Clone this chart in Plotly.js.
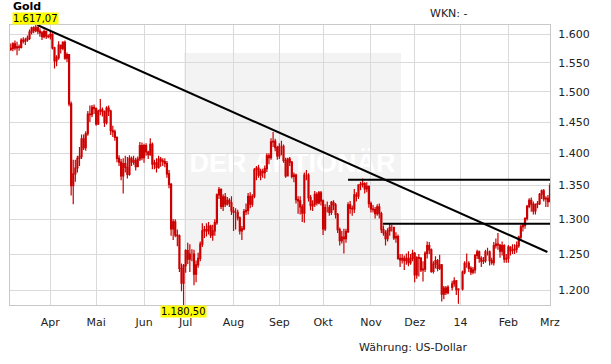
<!DOCTYPE html>
<html>
<head>
<meta charset="utf-8">
<script src="https://cdn.plot.ly/plotly-3.0.1.min.js"></script>
<style>html,body{margin:0;padding:0;background:#fff;}#chart{width:611px;height:364px;}</style>
</head>
<body>
<div id="chart"></div>
<script>
// Trading days run from 2013-03-05 to 2014-03-03 (weekdays); values per month below.
const startDate = '2013-03-05';
const endDate = '2014-03-03';

const openP = [
  // Mar 2013
  1573,1575,1583,1576,1578,1577,1590,1588,1590,1593,1604,1612,1607,1613,1606,1603,1596,1605,1597,
  // Apr
  1596,1600,1576,1553,1559,1581,1575,1586,1558,1564,1480,1350,1368,1377,1392,1395,1423,1409,1431,1463,1462,1474,
  // May
  1472,1447,1468,1470,1467,1449,1473,1468,1436,1434,1425,1392,1386,1365,1384,1378,1367,1392,1386,1389,1379,1391,1412,
  // Jun
  1393,1412,1402,1398,1414,1383,1385,1378,1391,1388,1387,1384,1368,1352,1286,1296,1277,1276,1230,1210,
  // Jul
  1234,1255,1243,1250,1250,1222,1235,1244,1264,1283,1285,1283,1290,1277,1283,1295,1336,1344,1319,1333,1322,1328,1324,
  // Aug
  1312,1310,1310,1302,1283,1286,1311,1313,1334,1322,1334,1374,1377,1366,1372,1370,1376,1396,1393,1418,1419,1409,
  // Sep
  1396,1411,1411,1389,1365,1391,1386,1364,1366,1329,1327,1318,1309,1366,1366,1332,1320,1322,1337,1324,1339,
  // Oct
  1327,1286,1317,1317,1310,1325,1321,1307,1285,1269,1274,1272,1282,1321,1316,1315,1336,1334,1351,1352,1353,1345,1349,
  // Nov
  1323,1315,1314,1308,1318,1308,1285,1280,1272,1283,1288,1288,1273,1275,1244,1242,1244,1241,1244,1238,1244,
  // Dec
  1251,1221,1245,1244,1228,1229,1251,1262,1256,1226,1236,1241,1230,1235,1195,1203,1197,null,1204,1209,1213,1201,
  // Jan 2014
  null,1202,1225,1237,1237,1230,1225,1228,1248,1253,1244,1240,1241,1253,1253,1241,1238,1262,1264,1263,1254,1262,1243,
  // Feb
  1244,1260,1255,1256,1257,1262,1274,1289,1291,1301,1319,1328,1322,1312,1322,1323,1337,1342,1330,1331,
  // Mar 2014
  1326
];
const highP = [
  1584,1586,1589,1587,1582,1593,1595,1594,1598,1609,1614,1615,1617.07,1614,1611,1606,1609,1607,1600,
  1606,1602,1578,1563,1588,1582,1588,1589,1568,1565,1484,1390,1390,1396,1410,1430,1430,1435,1468,1477,1478,1479,
  1474,1470,1488,1474,1469,1476,1477,1470,1444,1438,1427,1397,1391,1392,1396,1394,1397,1395,1396,1393,1395,1418,1417,
  1415,1416,1404,1424,1417,1390,1392,1396,1394,1392,1392,1388,1374,1354,1300,1300,1285,1278,1237,1236,
  1257,1266,1264,1257,1256,1241,1252,1268,1294,1290,1294,1296,1292,1292,1300,1338,1348,1346,1337,1339,1333,1331,1334,
  1318,1316,1314,1304,1290,1315,1323,1339,1340,1337,1377,1380,1382,1376,1376,1381,1400,1400,1424,1433.8,1423,1412,
  1416,1420,1414,1393,1393,1394,1388,1370,1368,1334,1334,1322,1370,1374,1369,1336,1328,1342,1340,1342,1342,
  1329,1322,1326,1321,1327,1328,1324,1309,1288,1283,1286,1286,1325,1327,1320,1345,1340,1352,1356,1361,1355,1355,1350,
  1326,1321,1318,1322,1323,1311,1291,1284,1287,1294,1292,1289,1281,1278,1250,1250,1248,1251,1254,1250,1256,
  1253,1247,1250,1246,1240,1254,1268,1267,1258,1240,1247,1243,1249,1236,1206,1206,1207,null,1213,1218,1214,1203,
  null,1227,1240,1251,1240,1233,1232,1250,1256,1255,1247,1246,1256,1259,1255,1245,1267,1272,1280,1264,1268,1264,1250,
  1263,1261,1264,1264,1268,1276,1292,1294,1303,1321,1331,1332,1326,1323,1327,1339,1344,1345,1334,1336,
  1354
];
const lowP = [
  1571,1570,1572,1563,1571,1575,1584,1581,1587,1590,1600,1602,1604,1601,1596,1590,1593,1592,1593,
  1591,1573,1540,1544,1555,1566,1572,1555,1551,1476,1335,1322,1356,1370,1380,1391,1405,1404,1428,1450,1458,1463,
  1444,1445,1461,1459,1442,1446,1460,1429,1426,1420,1386,1380,1358,1338,1370,1361,1365,1380,1382,1373,1378,1388,1389,
  1385,1396,1391,1396,1375,1375,1370,1376,1379,1380,1378,1362,1346,1276,1270,1274,1261,1225,1199,1180.5,
  1224,1236,1225,1240,1207,1211,1231,1240,1260,1273,1275,1278,1273,1269,1276,1292,1330,1315,1312,1318,1320,1318,1306,
  1283,1285,1298,1278,1270,1284,1306,1307,1316,1318,1331,1358,1362,1358,1362,1361,1371,1383,1390,1410,1403,1390,
  1391,1397,1385,1362,1364,1380,1361,1355,1323,1308,1307,1296,1295,1358,1326,1313,1312,1318,1320,1322,1320,
  1277,1283,1310,1305,1306,1313,1301,1280,1262,1265,1251,1266,1280,1308,1305,1309,1326,1330,1343,1347,1338,1340,1317,
  1310,1310,1301,1305,1301,1280,1276,1262,1268,1276,1282,1270,1266,1242,1232,1237,1228,1235,1233,1235,1240,
  1211,1216,1219,1225,1212,1225,1244,1250,1224,1223,1230,1226,1228,1185,1188,1194,1195,null,1200,1205,1194,1182,
  null,1200,1222,1231,1225,1221,1222,1223,1243,1238,1232,1236,1238,1248,1234,1235,1234,1258,1256,1245,1248,1238,1238,
  1238,1248,1250,1250,1252,1259,1270,1282,1286,1298,1316,1311,1307,1307,1316,1321,1330,1326,1318,1318,
  1326
];
const closeP = [
  1575,1583,1576,1578,1577,1590,1588,1590,1593,1604,1612,1607,1613,1606,1603,1596,1605,1597,1596,
  1600,1576,1553,1559,1581,1575,1586,1558,1564,1480,1350,1368,1377,1392,1395,1423,1409,1431,1463,1462,1474,1472,
  1447,1468,1470,1467,1449,1473,1468,1436,1434,1425,1392,1386,1365,1384,1378,1367,1392,1386,1389,1379,1391,1412,1393,
  1412,1402,1398,1414,1383,1385,1378,1391,1388,1387,1384,1368,1352,1286,1296,1277,1276,1230,1210,1234,
  1255,1243,1250,1250,1222,1235,1244,1264,1283,1285,1283,1290,1277,1283,1295,1336,1344,1319,1333,1322,1328,1324,1312,
  1310,1310,1302,1283,1286,1311,1313,1334,1322,1334,1374,1377,1366,1372,1370,1376,1396,1393,1418,1419,1409,1396,
  1411,1411,1389,1365,1391,1386,1364,1366,1329,1327,1318,1309,1366,1366,1332,1320,1322,1337,1324,1339,1327,
  1286,1317,1317,1310,1325,1321,1307,1285,1269,1274,1272,1282,1321,1316,1315,1336,1334,1351,1352,1353,1345,1349,1323,
  1315,1314,1308,1318,1308,1285,1280,1272,1283,1288,1288,1273,1275,1244,1242,1244,1241,1244,1238,1244,1251,
  1221,1245,1244,1228,1229,1251,1262,1256,1226,1236,1241,1230,1235,1195,1203,1197,1204,null,1209,1213,1201,1202,
  null,1225,1237,1237,1230,1225,1228,1248,1253,1244,1240,1241,1253,1253,1241,1238,1262,1264,1263,1254,1262,1243,1244,
  1260,1255,1256,1257,1262,1274,1289,1291,1301,1319,1328,1322,1312,1322,1323,1337,1342,1330,1331,1326,
  1350
];

// trend lines (date, price)
const trendX = ['2013-03-21 18:00', '2014-02-27 18:00'];
const trendY = [1617.07, 1253];
const resist1X = ['2013-10-17 00:00', '2014-03-03 00:00'];
const resist1Y = [1359, 1359];
const resist2X = ['2013-11-08 17:00', '2014-03-03 00:00'];
const resist2Y = [1293.5, 1293.5];

// axis ticks
const monthTickVals = ['2013-04-01','2013-05-01','2013-06-03','2013-07-01','2013-08-01','2013-09-02',
  '2013-10-01','2013-11-01','2013-12-02','2014-01-01','2014-02-03','2014-03-03'];
const monthTickText = ['Apr','Mai','Jun','Jul','Aug','Sep','Okt','Nov','Dez','14','Feb','Mrz'];
const priceTickVals = [1200,1250,1300,1350,1400,1450,1500,1550,1600];
const priceTickText = ['1.200','1.250','1.300','1.350','1.400','1.450','1.500','1.550','1.600'];

// build weekday list
function tradingDays(s, e) {
  const out = [];
  let d = new Date(s + 'T00:00:00Z');
  const end = new Date(e + 'T00:00:00Z');
  while (d <= end) {
    const wd = d.getUTCDay();
    if (wd !== 0 && wd !== 6) out.push(d.toISOString().slice(0, 10));
    d = new Date(d.getTime() + 86400000);
  }
  return out;
}
const dates = tradingDays(startDate, endDate);
if (dates.length !== closeP.length) console.warn('length mismatch', dates.length, closeP.length);

function fmtDE(v) {
  const parts = v.toFixed(2).split('.');
  return parts[0].replace(/\B(?=(\d{3})+(?!\d))/g, '.') + ',' + parts[1];
}

let iMax = 0, iMin = 0;
highP.forEach((v, i) => { if (v !== null && v > highP[iMax]) iMax = i; });
lowP.forEach((v, i) => { if (v !== null && v < lowP[iMin]) iMin = i; });

const red = '#cc0000';
const traces = [
  {
    type: 'candlestick', x: dates, open: openP, high: highP, low: lowP, close: closeP,
    increasing: {line: {color: red, width: 1.2}, fillcolor: '#ffffff'},
    decreasing: {line: {color: red, width: 1.2}, fillcolor: red},
    whiskerwidth: 0, hoverinfo: 'skip', showlegend: false
  },
  {type: 'scatter', mode: 'lines', x: trendX, y: trendY, line: {color: '#000', width: 2}, hoverinfo: 'skip', showlegend: false},
  {type: 'scatter', mode: 'lines', x: resist1X, y: resist1Y, line: {color: '#000', width: 2}, hoverinfo: 'skip', showlegend: false},
  {type: 'scatter', mode: 'lines', x: resist2X, y: resist2Y, line: {color: '#000', width: 2}, hoverinfo: 'skip', showlegend: false}
];

const L = 10, T = 25, W = 540, H = 280;
const px = x => (x - L) / W;
const py = y => 1 - (y - T) / H;
const font = {family: 'DejaVu Sans', size: 11, color: '#222'};

const layout = {
  width: 611, height: 364,
  margin: {l: 10, r: 61, t: 25, b: 59, pad: 0},
  paper_bgcolor: '#ffffff', plot_bgcolor: 'rgba(0,0,0,0)',
  separators: ',.',
  showlegend: false,
  font: font,
  xaxis: {
    type: 'date', range: ['2013-03-04 15:00', '2014-03-03 00:00'],
    rangebreaks: [{bounds: ['sat', 'mon']}],
    tickmode: 'array', tickvals: monthTickVals, ticktext: monthTickText,
    showgrid: true, gridcolor: '#dadada', gridwidth: 1,
    showline: true, mirror: true, linecolor: '#c8c8c8', linewidth: 1,
    ticks: '', ticklabelstandoff: 7, tickfont: font, rangeslider: {visible: false}, zeroline: false, fixedrange: true
  },
  yaxis: {
    type: 'log', side: 'right',
    range: [Math.log10(lowP[iMin]), Math.log10(highP[iMax])],
    tickmode: 'array', tickvals: priceTickVals, ticktext: priceTickText,
    showgrid: true, gridcolor: '#dadada', gridwidth: 1,
    showline: true, mirror: true, linecolor: '#c8c8c8', linewidth: 1,
    ticks: '', ticklabelstandoff: 5, tickfont: font, zeroline: false, fixedrange: true
  },
  shapes: [{
    type: 'rect', xref: 'paper', yref: 'paper', layer: 'below',
    x0: px(184), x1: px(401), y0: py(266), y1: py(53),
    fillcolor: '#f3f3f3', line: {width: 0},
    label: {text: 'DER AKTIONÄR', textposition: 'middle center',
      font: {family: 'Liberation Sans', size: 27, color: '#ffffff', weight: 'bold'}}
  }],
  annotations: [
    {xref: 'paper', yref: 'paper', x: px(11), y: py(6.5), xanchor: 'left', yanchor: 'middle',
     text: '<b>Gold</b>', showarrow: false, font: {family: 'DejaVu Sans', size: 11, color: '#000'}},
    {xref: 'paper', yref: 'paper', x: px(428), y: py(14), xanchor: 'left', yanchor: 'middle',
     text: 'WKN: -', showarrow: false, font: font},
    {xref: 'paper', yref: 'paper', x: px(357), y: py(347), xanchor: 'left', yanchor: 'middle',
     text: 'Währung: US-Dollar', showarrow: false, font: font},
    {xref: 'x', yref: 'y', x: dates[iMax], y: Math.log10(highP[iMax]), xanchor: 'center', yanchor: 'bottom',
     text: fmtDE(highP[iMax]), showarrow: false, bgcolor: '#ffff00', borderpad: 0,
     font: {family: 'DejaVu Sans', size: 10, color: '#000'}},
    {xref: 'x', yref: 'y', x: dates[iMin], y: Math.log10(lowP[iMin]), xanchor: 'center', yanchor: 'top',
     text: fmtDE(lowP[iMin]), showarrow: false, bgcolor: '#ffff00', borderpad: 0,
     font: {family: 'DejaVu Sans', size: 10, color: '#000'}}
  ]
};

Plotly.newPlot('chart', traces, layout, {staticPlot: true, displayModeBar: false});
</script>
</body>
</html>
